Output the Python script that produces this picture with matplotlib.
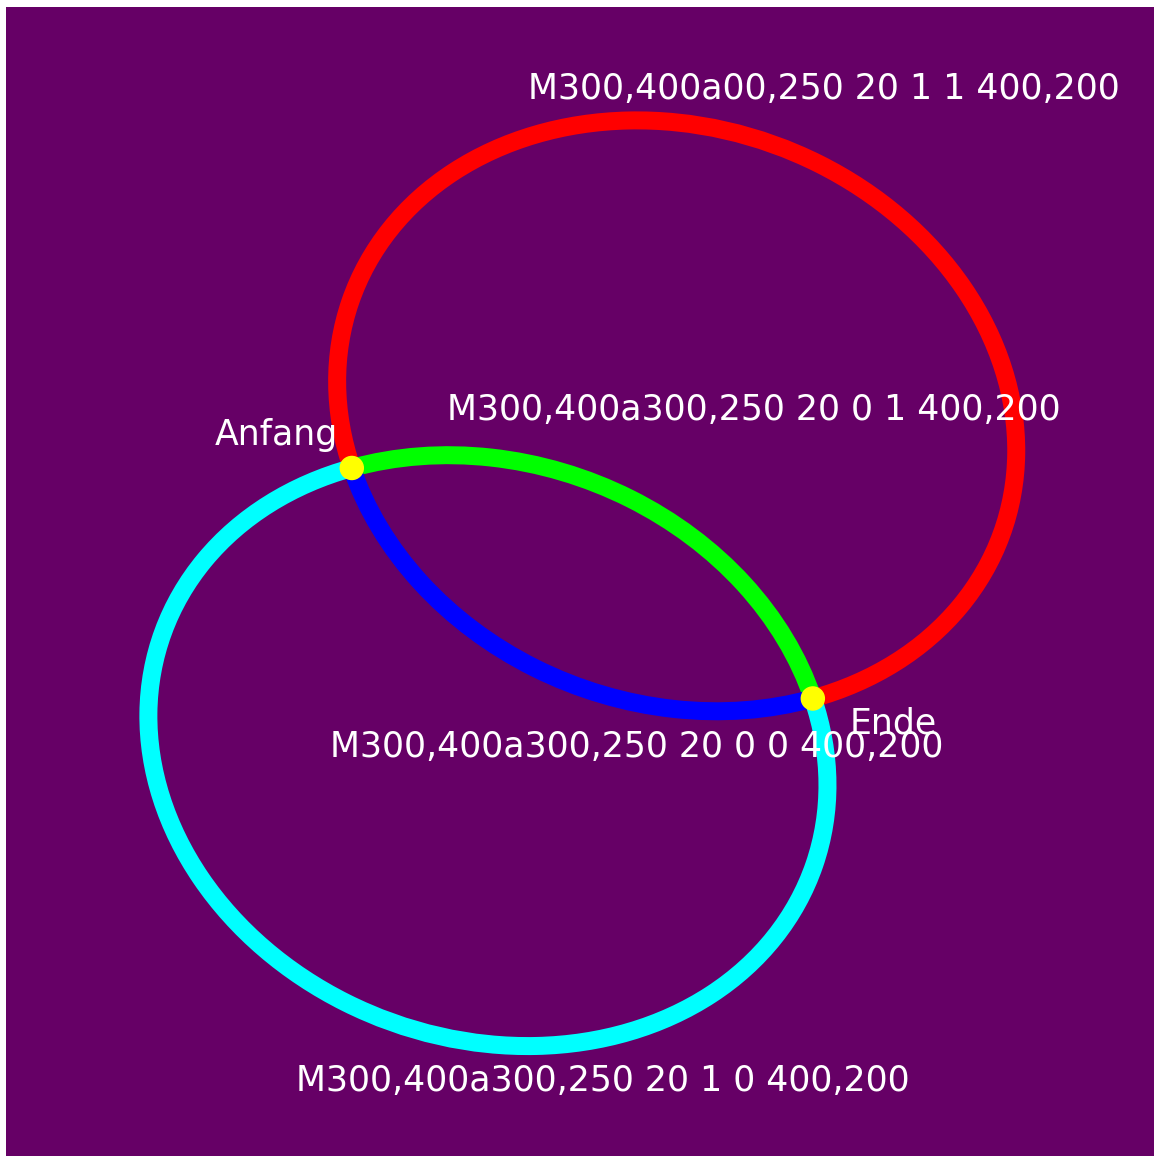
import numpy as np
import matplotlib
matplotlib.use('Agg')
from matplotlib import pyplot as plt
from matplotlib.patches import Arc, Circle

# arc parameters (svg units, y pointing down)
start = (300, 400)
end = (700, 600)
rx = 300
ry = 250
rotation = 20
large_flags = [1, 0, 0, 1]
sweep_flags = [1, 1, 0, 0]
colorset = ['#ff0000', '#00ff00', '#0000ff', '#00ffff']

labels = ['M300,400a00,250 20 1 1 400,200',
          'M300,400a300,250 20 0 1 400,200',
          'M300,400a300,250 20 0 0 400,200',
          'M300,400a300,250 20 1 0 400,200',
          'Anfang', 'Ende']
label_x = [453, 383, 281, 252, 181, 732]
label_y = [80, 358, 651, 941, 380, 630]


def arc_center(x1, y1, x2, y2, fa, fs):
    phi = np.radians(rotation)
    c, s = np.cos(phi), np.sin(phi)
    dx, dy = (x1 - x2) / 2.0, (y1 - y2) / 2.0
    x1p = c * dx + s * dy
    y1p = -s * dx + c * dy
    num = rx**2 * ry**2 - rx**2 * y1p**2 - ry**2 * x1p**2
    den = rx**2 * y1p**2 + ry**2 * x1p**2
    coef = np.sqrt(max(num, 0) / den)
    if fa == fs:
        coef = -coef
    cxp = coef * rx * y1p / ry
    cyp = -coef * ry * x1p / rx
    cx = c * cxp - s * cyp + (x1 + x2) / 2.0
    cy = s * cxp + c * cyp + (y1 + y2) / 2.0
    ux, uy = (x1p - cxp) / rx, (y1p - cyp) / ry
    vx, vy = (-x1p - cxp) / rx, (-y1p - cyp) / ry
    t1 = np.degrees(np.arctan2(uy, ux))
    dt = np.degrees(np.arctan2(ux * vy - uy * vx, ux * vx + uy * vy))
    if fs == 0 and dt > 0:
        dt -= 360
    if fs == 1 and dt < 0:
        dt += 360
    return cx, cy, t1, dt


def polar(t):
    # matplotlib Arc wants the real angle, not the parametric one
    r = np.radians(t)
    return np.degrees(np.arctan2(ry * np.sin(r), rx * np.cos(r)))


fig = plt.figure(figsize=(11.54, 11.56), dpi=100, facecolor='white')
ax = fig.add_axes([6 / 1154, 0, 1148 / 1154, 1149 / 1156])
ax.set_facecolor('#660066')
ax.set_xlim(0, 996)
ax.set_ylim(997, 0)
ax.set_xticks([])
ax.set_yticks([])
for sp in ax.spines.values():
    sp.set_visible(False)

lw = 18 * 72 / 100.0
for i in range(4):
    cx, cy, t1, dt = arc_center(start[0], start[1], end[0], end[1],
                                large_flags[i], sweep_flags[i])
    if dt >= 0:
        a, b = t1, t1 + dt
    else:
        a, b = t1 + dt, t1
    pa, pb = polar(a), polar(b)
    while pb <= pa:
        pb += 360
    arc = Arc((cx, cy), 2 * rx, 2 * ry, angle=rotation, theta1=pa, theta2=pb,
              color=colorset[i], lw=lw, capstyle='butt')
    ax.add_patch(arc)

for p in [start, end]:
    ax.add_patch(Circle(p, 10, color='#ffff00', zorder=5))

for i in range(len(labels)):
    ax.text(label_x[i], label_y[i], labels[i], color='white', fontsize=25,
            ha='left', va='baseline', zorder=6)

plt.savefig('out.png', dpi=100, facecolor='white')
plt.close()
